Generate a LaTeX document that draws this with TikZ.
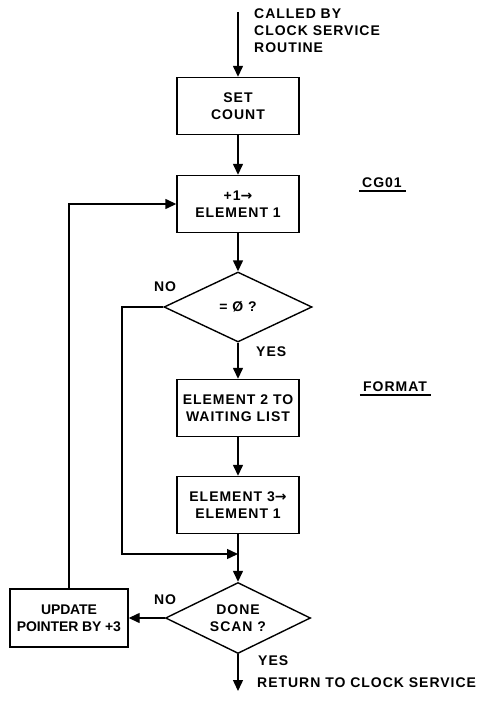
\documentclass[tikz,border=0pt]{standalone}
\usepackage{fontspec}
\setmainfont{Liberation Sans}[LetterSpace=7]
\newfontfamily\arrowfont{DejaVu Sans}
\usetikzlibrary{shapes.geometric,arrows.meta}
\newcommand{\rarr}{{\arrowfont\bfseries →}}
\begin{document}
\begin{tikzpicture}[x=1pt,y=-1pt,
  txt/.style={font=\fontsize{14}{17}\selectfont\bfseries, inner sep=0pt},
  box/.style={txt, draw, line width=1.4pt, minimum width=122pt, minimum height=57pt, align=center},
  dia/.style={txt, draw, diamond, shape aspect=2, line width=1.4pt, minimum width=148pt, minimum height=70pt, align=center},
  ln/.style={line width=1.4pt},
  arr/.style={ln, -{Triangle[length=11pt,width=10pt]}}]
\useasboundingbox (0,0) rectangle (487,706);
% nodes
\coordinate (start) at (238,12);
\node[txt, anchor=north west, align=left] (called) at (254,9) {CALLED BY\\CLOCK SERVICE\\ROUTINE};
\node[box] (setc) at (238,106) {SET\\COUNT};
\node[box] (el1) at (238,204) {+1\rarr\\ELEMENT 1};
\node[dia] (d1) at (238,307) {= Ø ?};
\node[box] (el2) at (238,408) {ELEMENT 2 TO\\WAITING LIST};
\node[box] (el3) at (238,505) {ELEMENT 3\rarr\\ELEMENT 1};
\coordinate (j) at (238,554);
\node[dia, minimum width=145pt, minimum height=71pt] (d2) at (238,618) {DONE\\SCAN ?};
\node[box, minimum width=118pt, minimum height=58pt, font=\fontsize{14}{17}\selectfont\bfseries\addfontfeature{LetterSpace=-1}] (upd) at (69,618) {UPDATE\\POINTER BY +3};
\coordinate (end) at (238,691);
\coordinate (lx) at (122,307);
% labels
\node[txt] (cg) at (382,183) {CG01};
\draw[ln] ([yshift=-3pt]cg.south west) ++(-3,0) -- ([yshift=-3pt,xshift=4pt]cg.south east);
\node[txt] (fmt) at (395,387) {FORMAT};
\draw[ln] ([yshift=-3pt]fmt.south west) ++(-3,0) -- ([yshift=-3pt,xshift=4pt]fmt.south east);
\node[txt] (no1) at (165,287) {NO};
\node[txt, anchor=west] (yes1) at (256,352) {YES};
\node[txt] (no2) at (165,600) {NO};
\node[txt, anchor=west] (yes2) at (258,661) {YES};
\node[txt, anchor=west] (ret) at (257,683) {RETURN TO CLOCK SERVICE};
% connectors
\draw[arr] (start) -- (setc.north);
\draw[arr] (setc.south) -- (el1.north);
\draw[arr] (el1.south) -- (d1.north);
\draw[arr] (d1.south) -- (el2.north);
\draw[arr] (el2.south) -- (el3.north);
\draw[ln] (el3.south) -- (j);
\draw[arr] (j) -- (d2.north);
\draw[arr] (d1.west) -- (lx) |- (j);
\draw[arr] (d2.west) -- (upd.east);
\draw[arr] (upd.north) |- (el1.west);
\draw[arr] (d2.south) -- (end);
\end{tikzpicture}
\end{document}
